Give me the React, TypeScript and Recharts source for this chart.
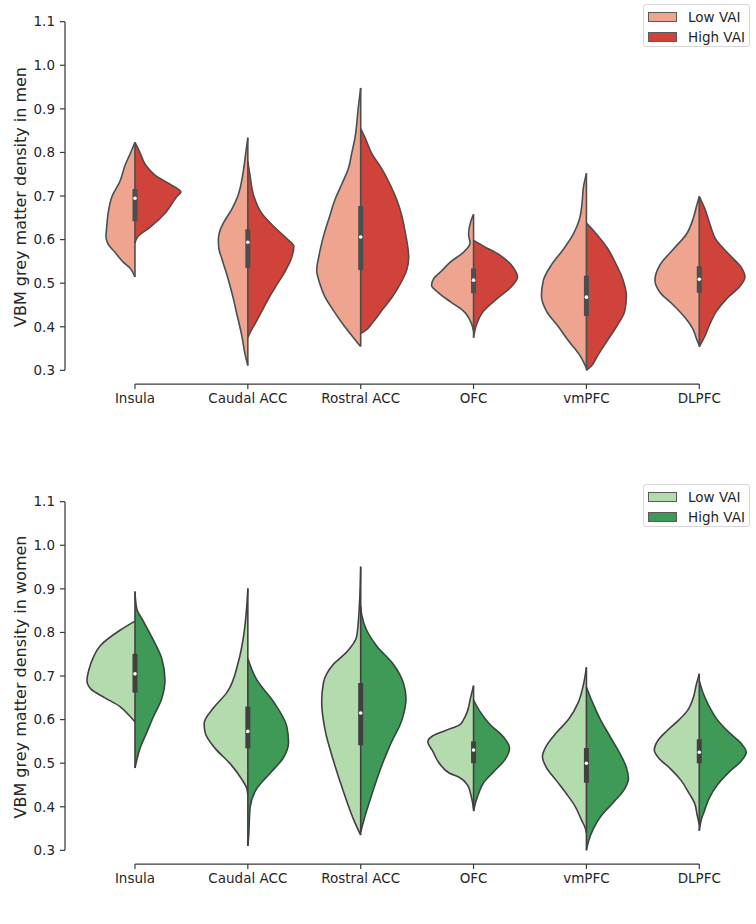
import React from 'react';
import { ComposedChart, Area, Line, Scatter, XAxis, YAxis, ReferenceLine } from 'recharts';

type Profile = [number, number][];

const categories = ['Insula', 'Caudal ACC', 'Rostral ACC', 'OFC', 'vmPFC', 'DLPFC'];
const yTicks = [0.3, 0.4, 0.5, 0.6, 0.7, 0.8, 0.9, 1.0, 1.1];
const xTicks = categories.map((_, i) => i);
const groups = ['Low VAI', 'High VAI'];

// Kernel density profiles: [grey matter density value, relative density]
const menLowInsula: Profile = [[0.823, 0], [0.805, 3.3], [0.77, 10], [0.734, 15], [0.699, 23], [0.663, 26.7], [0.628, 28.3], [0.607, 29], [0.59, 27], [0.571, 20], [0.549, 12], [0.535, 5], [0.514, 0]];
const menHighInsula: Profile = [[0.823, 0], [0.805, 4], [0.77, 11], [0.748, 20], [0.727, 35], [0.709, 46], [0.699, 42], [0.663, 31], [0.628, 15], [0.607, 3], [0.592, 0]];
const menLowCaudal: Profile = [[0.834, 0], [0.8, 2], [0.75, 5], [0.7, 10], [0.67, 16], [0.64, 24], [0.62, 28], [0.6, 29.5], [0.58, 29], [0.556, 26], [0.52, 21], [0.493, 17.7], [0.46, 14], [0.429, 11], [0.4, 8], [0.379, 6], [0.336, 2.7], [0.311, 0]];
const menHighCaudal: Profile = [[0.78, 0], [0.75, 2], [0.7, 6], [0.66, 14], [0.63, 26], [0.6, 40], [0.585, 46], [0.56, 44], [0.53, 38], [0.5, 30], [0.47, 22], [0.44, 15], [0.41, 8], [0.39, 3], [0.375, 0]];
const menLowRostral: Profile = [[0.948, 0], [0.905, 2.3], [0.834, 5.7], [0.798, 9], [0.763, 12.3], [0.727, 19], [0.692, 25.7], [0.656, 30.7], [0.62, 35.7], [0.592, 39], [0.56, 42], [0.53, 44], [0.5, 41], [0.47, 36], [0.44, 28], [0.41, 19], [0.38, 9], [0.36, 2], [0.355, 0]];
const menHighRostral: Profile = [[0.855, 0], [0.834, 4.3], [0.798, 11], [0.763, 21], [0.727, 29.3], [0.692, 36], [0.656, 41], [0.62, 44.3], [0.592, 46.5], [0.56, 48], [0.53, 46], [0.5, 40], [0.47, 32], [0.44, 22], [0.41, 12], [0.39, 4], [0.385, 0]];
const menLowOFC: Profile = [[0.658, 0], [0.64, 3], [0.613, 5], [0.592, 3.5], [0.571, 10], [0.549, 23], [0.528, 32], [0.51, 40], [0.495, 42], [0.478, 35], [0.457, 23], [0.436, 10], [0.407, 2], [0.39, 0]];
const menHighOFC: Profile = [[0.598, 0], [0.585, 10], [0.564, 26.7], [0.535, 40], [0.514, 44], [0.493, 38.3], [0.464, 23.3], [0.436, 10], [0.407, 3.3], [0.375, 0]];
const menLowVmPFC: Profile = [[0.752, 0], [0.72, 3], [0.68, 4.5], [0.649, 6.7], [0.613, 13], [0.578, 23], [0.542, 35], [0.507, 43], [0.471, 45], [0.436, 40], [0.4, 28], [0.365, 17], [0.336, 7], [0.315, 2], [0.305, 0]];
const menHighVmPFC: Profile = [[0.638, 0], [0.613, 10], [0.578, 21.7], [0.542, 30], [0.507, 36.7], [0.471, 40], [0.436, 38.3], [0.4, 30], [0.365, 20], [0.329, 10], [0.31, 5], [0.3, 0]];
const menLowDLPFC: Profile = [[0.699, 0], [0.677, 2.7], [0.649, 6], [0.613, 12.7], [0.578, 26], [0.542, 39.3], [0.507, 44.3], [0.478, 39], [0.45, 26], [0.421, 14.3], [0.393, 6], [0.372, 2.7], [0.357, 0]];
const menHighDLPFC: Profile = [[0.699, 0], [0.67, 5.7], [0.635, 10.7], [0.599, 17], [0.564, 30.7], [0.535, 42.3], [0.514, 45.7], [0.493, 40.7], [0.464, 27.3], [0.436, 17.3], [0.407, 10.7], [0.379, 5.7], [0.354, 0]];

const womenLowInsula: Profile = [[0.826, 0], [0.805, 15], [0.769, 35], [0.741, 42], [0.715, 46], [0.69, 48], [0.67, 44], [0.65, 30], [0.63, 15], [0.61, 6], [0.595, 0]];
const womenHighInsula: Profile = [[0.894, 0], [0.855, 1.7], [0.826, 8.3], [0.783, 18.3], [0.741, 26.7], [0.691, 30], [0.648, 26.7], [0.606, 18.3], [0.57, 11.7], [0.534, 5], [0.499, 1], [0.489, 0]];
const womenLowCaudal: Profile = [[0.901, 0], [0.862, 1], [0.791, 4.3], [0.734, 9.3], [0.662, 21], [0.627, 34.3], [0.591, 43.7], [0.57, 42.7], [0.534, 32.7], [0.499, 17.7], [0.463, 6], [0.442, 1], [0.427, 0]];
const womenHighCaudal: Profile = [[0.74, 0], [0.691, 9], [0.641, 25.7], [0.584, 39], [0.548, 40.7], [0.513, 35.7], [0.477, 22.3], [0.442, 9], [0.399, 2.3], [0.328, 0.7], [0.31, 0]];
const womenLowRostral: Profile = [[0.951, 0], [0.862, 1.3], [0.791, 4], [0.755, 14], [0.727, 27.3], [0.684, 37.3], [0.641, 39], [0.577, 35.7], [0.506, 27.3], [0.435, 17.3], [0.363, 5.7], [0.335, 0]];
const womenHighRostral: Profile = [[0.86, 0], [0.841, 1], [0.805, 6], [0.769, 16], [0.727, 32.7], [0.684, 42.7], [0.648, 45.3], [0.598, 41], [0.541, 29.3], [0.484, 19.3], [0.427, 11], [0.378, 4.3], [0.342, 0]];
const womenLowOFC: Profile = [[0.678, 0], [0.65, 3], [0.62, 6], [0.6, 10], [0.588, 14], [0.575, 28], [0.563, 40.7], [0.549, 45.7], [0.527, 40.7], [0.499, 34], [0.477, 24], [0.467, 14], [0.45, 6], [0.43, 3], [0.41, 1], [0.395, 0]];
const womenHighOFC: Profile = [[0.645, 0], [0.62, 6], [0.59, 16], [0.56, 30], [0.535, 36], [0.51, 32], [0.48, 20], [0.455, 10], [0.43, 5], [0.41, 2], [0.39, 0]];
const womenLowVmPFC: Profile = [[0.72, 0], [0.68, 3], [0.64, 8], [0.6, 18], [0.57, 30], [0.54, 40], [0.515, 44], [0.49, 40], [0.46, 30], [0.43, 20], [0.4, 11], [0.37, 5], [0.35, 1], [0.34, 0]];
const womenHighVmPFC: Profile = [[0.675, 0], [0.64, 6], [0.6, 14], [0.56, 24], [0.52, 34], [0.49, 40], [0.465, 42], [0.44, 38], [0.41, 27], [0.38, 15], [0.35, 7], [0.32, 2], [0.3, 0]];
const womenLowDLPFC: Profile = [[0.705, 0], [0.68, 3], [0.65, 6], [0.62, 12], [0.6, 20], [0.575, 32], [0.55, 42], [0.53, 45], [0.51, 40], [0.49, 30], [0.46, 18], [0.43, 10], [0.41, 5], [0.38, 2], [0.36, 0]];
const womenHighDLPFC: Profile = [[0.69, 0], [0.66, 4], [0.63, 10], [0.6, 18], [0.57, 30], [0.545, 42], [0.525, 47], [0.505, 42], [0.48, 30], [0.45, 18], [0.42, 10], [0.39, 5], [0.37, 2], [0.345, 0]];

const menLow = [menLowInsula, menLowCaudal, menLowRostral, menLowOFC, menLowVmPFC, menLowDLPFC];
const menHigh = [menHighInsula, menHighCaudal, menHighRostral, menHighOFC, menHighVmPFC, menHighDLPFC];
const womenLow = [womenLowInsula, womenLowCaudal, womenLowRostral, womenLowOFC, womenLowVmPFC, womenLowDLPFC];
const womenHigh = [womenHighInsula, womenHighCaudal, womenHighRostral, womenHighOFC, womenHighVmPFC, womenHighDLPFC];

// Inner box: quartiles and medians per region
const menQ1 = [0.642, 0.535, 0.53, 0.477, 0.425, 0.478];
const menMedian = [0.695, 0.594, 0.606, 0.507, 0.468, 0.509];
const menQ3 = [0.716, 0.624, 0.677, 0.534, 0.517, 0.539];
const womenQ1 = [0.662, 0.534, 0.541, 0.5, 0.455, 0.5];
const womenMedian = [0.705, 0.573, 0.615, 0.53, 0.5, 0.525];
const womenQ3 = [0.751, 0.63, 0.684, 0.55, 0.535, 0.555];

const DENSITY_SCALE = 1 / 112.86;
const X_DOMAIN: [number, number] = [-0.62, 5.5];
const Y_DOMAIN: [number, number] = [0.2687, 1.1];
const FONT = 'DejaVu Sans, sans-serif';
const TEXT = '#262626';
const SPINE = '#3a3a3a';

type VProps = {
  low: Profile[];
  high: Profile[];
  q1: number[];
  med: number[];
  q3: number[];
  lowColor: string;
  highColor: string;
  edge: string;
  yLabel: string;
};

function ViolinChart({ low, high, q1, med, q3, lowColor, highColor, edge, yLabel }: VProps) {
  const areas: React.ReactNode[] = [];
  const lines: React.ReactNode[] = [];
  const dots: React.ReactNode[] = [];
  categories.forEach((c, i) => {
    const lowData = low[i].map(([v, d]) => ({ v, x: i - d * DENSITY_SCALE }));
    const highData = high[i].map(([v, d]) => ({ v, x: i + d * DENSITY_SCALE }));
    areas.push(
      <Area key={'lo' + i} data={lowData} dataKey="x" baseValue={i} type="monotone" fill={lowColor} fillOpacity={1}
        stroke={edge} strokeWidth={1.6} dot={false} activeDot={false} isAnimationActive={false} />
    );
    areas.push(
      <Area key={'hi' + i} data={highData} dataKey="x" baseValue={i} type="monotone" fill={highColor} fillOpacity={1}
        stroke={edge} strokeWidth={1.6} dot={false} activeDot={false} isAnimationActive={false} />
    );
    const allV = [...low[i], ...high[i]].map((p) => p[0]);
    const top = Math.max(...allV);
    const bottom = Math.min(...allV);
    lines.push(
      <Line key={'c' + i} data={[{ v: top, x: i }, { v: bottom, x: i }]} dataKey="x" type="linear" stroke={edge}
        strokeWidth={1.6} dot={false} activeDot={false} isAnimationActive={false} />
    );
    lines.push(
      <Line key={'b' + i} data={[{ v: q3[i], x: i }, { v: q1[i], x: i }]} dataKey="x" type="linear" stroke={edge}
        strokeWidth={5} strokeLinecap="butt" dot={false} activeDot={false} isAnimationActive={false} />
    );
    dots.push(
      <Scatter key={'m' + i} data={[{ x: i, v: med[i] }]} dataKey="v" fill="#ffffff" isAnimationActive={false}
        shape={(p: any) => <circle cx={p.cx} cy={p.cy} r={1.8} fill="#ffffff" />} />
    );
  });

  return (
    <ComposedChart width={756} height={440} layout="vertical" margin={{ top: 21.7, right: 0.3, bottom: 28, left: 0 }}>
      <XAxis type="number" dataKey="x" domain={X_DOMAIN} ticks={xTicks} allowDataOverflow
        tickFormatter={(t: number) => categories[Math.round(t)] ?? ''} axisLine={false}
        tickLine={{ stroke: SPINE, strokeWidth: 1.2 }} tickSize={5} tickMargin={4} height={28}
        tick={{ fill: TEXT, fontSize: 13.5, fontFamily: FONT }} interval={0} />
      <YAxis type="number" dataKey="v" domain={Y_DOMAIN} ticks={yTicks} allowDataOverflow reversed
        tickFormatter={(t: number) => t.toFixed(1)} axisLine={false}
        tickLine={{ stroke: SPINE, strokeWidth: 1.2 }} tickSize={5} tickMargin={5} width={65}
        tick={{ fill: TEXT, fontSize: 13.5, fontFamily: FONT }} interval={0}
        label={{
          content: () => (
            <text x={26} y={197} transform="rotate(-90 26 197)" textAnchor="middle" fill={TEXT}
              fontSize={16} fontFamily={FONT}>{yLabel}</text>
          ),
        }} />
      {areas}
      {lines}
      {dots}
      <ReferenceLine ifOverflow="visible" stroke={SPINE} strokeWidth={1.25}
        segment={[{ x: X_DOMAIN[0], y: yTicks[0] }, { x: X_DOMAIN[0], y: yTicks[yTicks.length - 1] }]} />
      <ReferenceLine ifOverflow="visible" stroke={SPINE} strokeWidth={1.25}
        segment={[{ x: xTicks[0], y: Y_DOMAIN[0] }, { x: xTicks[xTicks.length - 1], y: Y_DOMAIN[0] }]} />
    </ComposedChart>
  );
}

function LegendBox({ colors, edge }: { colors: string[]; edge: string }) {
  return (
    <div style={{
      position: 'absolute', left: 643, top: 4, width: 107, height: 43, boxSizing: 'border-box',
      border: '1px solid #d6d6d6', borderRadius: 3, background: '#fff', fontFamily: FONT,
    }}>
      {groups.map((g, k) => (
        <div key={g} style={{ position: 'absolute', left: 4, top: 5 + k * 20, height: 14, display: 'flex', alignItems: 'center' }}>
          <div style={{ width: 29, height: 10, boxSizing: 'border-box', background: colors[k], border: `1px solid ${edge}` }} />
          <span style={{ marginLeft: 11, fontSize: 13.5, color: TEXT, lineHeight: '14px', whiteSpace: 'nowrap' }}>{g}</span>
        </div>
      ))}
    </div>
  );
}

export default function App() {
  const redLow = '#eea48e';
  const redHigh = '#cf433b';
  const greenLow = '#b3dbae';
  const greenHigh = '#3f9a58';
  return (
    <div style={{ position: 'absolute', left: 0, top: 0, width: 756, height: 924, background: '#fff' }}>
      <div style={{ position: 'absolute', left: 0, top: 0, width: 756, height: 440 }}>
        <ViolinChart low={menLow} high={menHigh} q1={menQ1} med={menMedian} q3={menQ3}
          lowColor={redLow} highColor={redHigh} edge="#4d4d4d" yLabel="VBM grey matter density in men" />
        <LegendBox colors={[redLow, redHigh]} edge="#5a5a5a" />
      </div>
      <div style={{ position: 'absolute', left: 0, top: 480, width: 756, height: 440 }}>
        <ViolinChart low={womenLow} high={womenHigh} q1={womenQ1} med={womenMedian} q3={womenQ3}
          lowColor={greenLow} highColor={greenHigh} edge="#404040" yLabel="VBM grey matter density in women" />
        <LegendBox colors={[greenLow, greenHigh]} edge="#5a5a5a" />
      </div>
    </div>
  );
}
